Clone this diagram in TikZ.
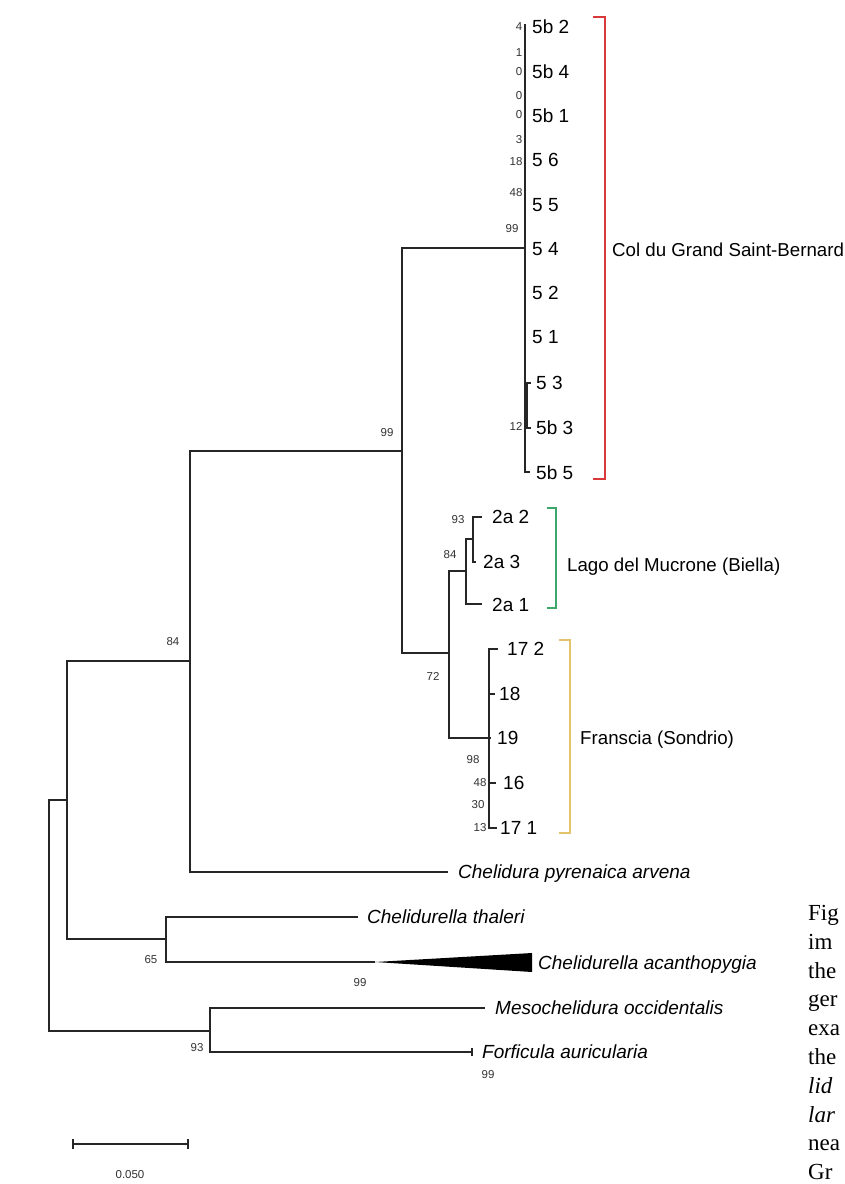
\documentclass[tikz,border=0pt]{standalone}
\usepackage{fontspec}
\setmainfont{Liberation Sans}
\newfontfamily\captionserif{Liberation Serif}
\begin{document}
\begin{tikzpicture}[x=1pt,y=-1pt,
  branch/.style={line width=1.2pt, draw=black!85},
  tip/.style={anchor=base west, inner sep=0pt, yshift=-6.6pt, font=\fontsize{19}{21}\selectfont},
  sp/.style={anchor=base west, inner sep=0pt, yshift=-6.8pt, font=\fontsize{19}{21}\selectfont\itshape},
  boot/.style={inner sep=0pt, font=\fontsize{11.5}{13}\selectfont, text=black!80},
  grp/.style={anchor=base west, inner sep=0pt, yshift=-6.6pt, font=\fontsize{18.7}{20}\selectfont},
  bracket/.style={line width=2pt},
  captext/.style={anchor=base west, inner sep=0pt, yshift=-7.5pt, font=\captionserif\fontsize{23}{26}\selectfont}
]
\useasboundingbox (0,0) rectangle (844,1184);
\fill[white] (0,0) rectangle (844,1184);

% ---- internal nodes (x = depth, y = where the parent branch enters)
\coordinate (root) at (49,915);
\coordinate (n67)  at (67,800);
\coordinate (n190) at (190,661);
\coordinate (n402) at (402,451);
\coordinate (n525) at (525,248);
\coordinate (n449) at (449,653);
\coordinate (n466) at (466,571);
\coordinate (n473) at (473,539);
\coordinate (n489) at (489,738);
\coordinate (n527) at (527,405);
\coordinate (n166) at (166,939);
\coordinate (n210) at (210,1031);

% ---- branch ends
\coordinate (e5b2) at (525,24);
\coordinate (e5b5) at (530,472);
\coordinate (e53)  at (531,383);
\coordinate (e5b3) at (531,428);
\coordinate (e2a2) at (482,517);
\coordinate (e2a3) at (476,562);
\coordinate (e2a1) at (482,604);
\coordinate (e172) at (498,649);
\coordinate (e18)  at (495,694);
\coordinate (e19)  at (491,738);
\coordinate (e16)  at (496,783);
\coordinate (e171) at (497,828);
\coordinate (epyr) at (448,872);
\coordinate (etha) at (358,917);
\coordinate (eaca) at (375,962);
\coordinate (emes) at (485,1008);
\coordinate (efor) at (472,1052);

% ---- tree
\draw[branch] (root) |- (n67);
\draw[branch] (root) |- (n210);
\draw[branch] (n67) |- (n190);
\draw[branch] (n67) |- (n166);
\draw[branch] (n190) |- (n402);
\draw[branch] (n190) |- (epyr);
\draw[branch] (n402) |- (n525);
\draw[branch] (n402) |- (n449);
\draw[branch] (e5b2) -- (n525) |- (e5b5);
\draw[branch, line width=1.8pt] (n527) |- (e53);
\draw[branch, line width=1.8pt] (n527) |- (e5b3);
\draw[branch] (n449) |- (n466);
\draw[branch] (n449) |- (n489);
\draw[branch] (n466) |- (n473);
\draw[branch] (n466) |- (e2a1);
\draw[branch] (n473) |- (e2a2);
\draw[branch] (n473) |- (e2a3);
\draw[branch] (n489) |- (e172);
\draw[branch] (n489) |- (e171);
\draw[branch] (n489) |- (e18);
\draw[branch] (n489) |- (e16);
\draw[branch] (n489) -- (e19);
\draw[branch] (n166) |- (etha);
\draw[branch] (n166) |- (eaca);
\draw[branch] (n210) |- (emes);
\draw[branch] (n210) |- (efor);
\draw[branch] ([yshift=-4pt]efor) -- ([yshift=4pt]efor);
% collapsed clade
\fill[black] (eaca) -- (532,953) -- (532,972) -- cycle;

% ---- tip labels
\node[tip] (t5b2) at (532,27)  {5b 2};
\node[tip] (t5b4) at (532,72)  {5b 4};
\node[tip] (t5b1) at (532,116) {5b 1};
\node[tip] (t56)  at (532,160) {5 6};
\node[tip] (t55)  at (532,205) {5 5};
\node[tip] (t54)  at (532,249) {5 4};
\node[tip] (t52)  at (532,293) {5 2};
\node[tip] (t51)  at (532,337) {5 1};
\node[tip] (t53)  at (536,383) {5 3};
\node[tip] (t5b3) at (536,428) {5b 3};
\node[tip] (t5b5) at (536,473) {5b 5};
\node[tip] (t2a2) at (492,517) {2a 2};
\node[tip] (t2a3) at (483,562) {2a 3};
\node[tip] (t2a1) at (492,605) {2a 1};
\node[tip] (t172) at (507,649) {17 2};
\node[tip] (t18)  at (499,694) {18};
\node[tip] (t19)  at (497,738) {19};
\node[tip] (t16)  at (503,783) {16};
\node[tip] (t171) at (500,828) {17 1};
\node[sp] (tpyr) at (458,872)  {Chelidura pyrenaica arvena};
\node[sp] (ttha) at (367,917)  {Chelidurella thaleri};
\node[sp] (taca) at (538,963)  {Chelidurella acanthopygia};
\node[sp] (tmes) at (495,1008) {Mesochelidura occidentalis};
\node[sp] (tfor) at (482,1052) {Forficula auricularia};

% ---- bootstrap values
\node[boot] (b1)  at (519,27)  {4};
\node[boot] (b2)  at (519,53)  {1};
\node[boot] (b3)  at (519,72)  {0};
\node[boot] (b4)  at (519,96)  {0};
\node[boot] (b5)  at (519,115) {0};
\node[boot] (b6)  at (519,140) {3};
\node[boot] (b7)  at (516,162) {18};
\node[boot] (b8)  at (516,193) {48};
\node[boot] (b9)  at (512,229) {99};
\node[boot] (b10) at (516,426) {12};
\node[boot] (b11) at (387,433) {99};
\node[boot] (b12) at (458,520) {93};
\node[boot] (b13) at (450,555) {84};
\node[boot] (b14) at (433,676) {72};
\node[boot] (b15) at (473,760) {98};
\node[boot] (b16) at (480,783) {48};
\node[boot] (b17) at (478,805) {30};
\node[boot] (b18) at (480,828) {13};
\node[boot] (b19) at (173,642) {84};
\node[boot] (b20) at (151,960) {65};
\node[boot] (b21) at (360,983) {99};
\node[boot] (b22) at (197,1048) {93};
\node[boot] (b23) at (488,1075) {99};

% ---- population brackets
\draw[bracket, draw={rgb,255:red,216;green,57;blue,59}] (593,17) -- (605,17) -- (605,479) -- (593,479);
\draw[bracket, draw={rgb,255:red,61;green,166;blue,107}] (547,508) -- (556,508) -- (556,608) -- (547,608);
\draw[bracket, draw={rgb,255:red,227;green,195;blue,107}] (559,640) -- (570,640) -- (570,833) -- (559,833);
\node[grp] (gcol) at (612,250) {Col du Grand Saint-Bernard};
\node[grp] (glag) at (567,565) {Lago del Mucrone (Biella)};
\node[grp] (gfra) at (580,738) {Franscia (Sondrio)};

% ---- scale bar
\coordinate (s0) at (73,1144);
\coordinate (s1) at (188,1144);
\draw[branch] (s0) -- (s1);
\draw[branch] ([yshift=-5pt]s0) -- ([yshift=5pt]s0);
\draw[branch] ([yshift=-5pt]s1) -- ([yshift=5pt]s1);
\node[boot] (slab) at (130,1175) {0.050};

% ---- caption column
\foreach \t [count=\i from 0] in {Fig,im,the,ger,exa,the,\textit{lid},\textit{lar},nea,Gr}
  \node[captext] (cap\i) at (808,913+28.8*\i) {\t};
\end{tikzpicture}
\end{document}
